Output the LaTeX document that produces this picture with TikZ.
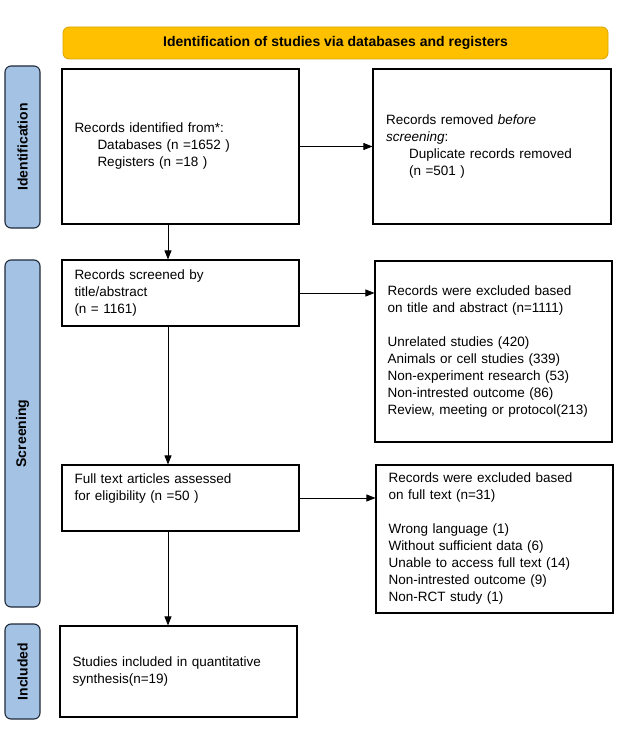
\documentclass[tikz,border=0pt]{standalone}
\usepackage{fontspec}
\setmainfont{Liberation Sans}
\usepackage{xcolor}
\usepackage{tikz}
\usetikzlibrary{positioning,arrows.meta}

\definecolor{bannerfill}{HTML}{FFC000}
\definecolor{bannerline}{HTML}{D9A400}
\definecolor{tabfill}{HTML}{A4C2E4}
\definecolor{tabline}{HTML}{1F2A3A}

\tikzset{
    flowbox/.style={draw, line width=1.1pt, minimum width=237pt, text width=212pt,
        inner xsep=12.5pt, inner ysep=0pt, align=left,
        font=\fontsize{13.5}{17}\selectfont},
    phase/.style={draw=tabline, line width=1.1pt, fill=tabfill, rounded corners=6pt,
        rotate=90, minimum height=35pt, inner sep=0pt,
        font=\fontsize{14}{16}\selectfont\bfseries},
    flow/.style={-{Triangle[length=9pt,width=7pt]}, line width=0.8pt}
}

\begin{document}
\begin{tikzpicture}[x=1pt,y=-1pt]
    \useasboundingbox (0,0) rectangle (624,735);

    % Banner
    \node[draw=bannerline, fill=bannerfill, rounded corners=6pt, line width=0.8pt,
        minimum width=545pt, minimum height=32pt, font=\fontsize{14}{16}\selectfont\bfseries]
        (banner) at (335.5,43) {Identification of studies via databases and registers};

    % Phases
    \node[phase, minimum width=162pt] (tabid) at (22.5,147) {Identification};
    \node[phase, minimum width=347pt] (tabscr) at (22.5,433.5) {Screening};
    \node[phase, minimum width=95pt] (tabinc) at (22.5,671.5) {Included};

    % Identification
    \node[flowbox, minimum height=155pt] (ident) at (180.5,146.5)
        {Records identified from*:\\
        \hspace*{23pt}Databases (n =1652 )\\
        \hspace*{23pt}Registers (n =18 )};
    \node[flowbox, minimum width=238pt, minimum height=155pt] (removed) at (492,146.5)
        {Records removed \textit{before}\\
        \textit{screening}:\\
        \hspace*{23pt}Duplicate records removed\\
        \hspace*{23pt}(n =501 )};

    % Screening
    \node[flowbox, minimum height=66pt] (screened) at (180.5,293)
        {Records screened by\\title/abstract\\(n = 1161)};
    \node[flowbox, minimum height=181pt] (exclta) at (493.5,351.5)
        {Records were excluded based\\
        on title and abstract (n=1111)\\[17pt]
        Unrelated studies (420)\\
        Animals or cell studies (339)\\
        Non-experiment research (53)\\
        Non-intrested outcome (86)\\
        Review, meeting or protocol(213)};
    \node[flowbox, minimum height=66pt] (fulltext) at (180.5,498)
        {Full text articles assessed\\for eligibility (n =50 )\\\strut};
    \node[flowbox, minimum height=148pt] (exclft) at (494.5,539)
        {Records were excluded based\\
        on full text (n=31)\\[17pt]
        Wrong language (1)\\
        Without sufficient data (6)\\
        Unable to access full text (14)\\
        Non-intrested outcome (9)\\
        Non-RCT study (1)};

    % Included
    \node[flowbox, minimum height=91pt] (included) at (178.5,671.5)
        {Studies included in quantitative\\synthesis(n=19)};

    % Arrows
    \draw[flow] (ident) -- (removed);
    \draw[flow] (screened) -- (exclta.west |- screened.east);
    \draw[flow] (fulltext) -- (exclft.west |- fulltext.east);
    \draw[flow] ([xshift=-12.5pt]ident.south) -- ([xshift=-12.5pt]screened.north);
    \draw[flow] ([xshift=-12.5pt]screened.south) -- ([xshift=-12.5pt]fulltext.north);
    \draw[flow] ([xshift=-12.5pt]fulltext.south) -- ([xshift=-10.5pt]included.north);
\end{tikzpicture}
\end{document}
